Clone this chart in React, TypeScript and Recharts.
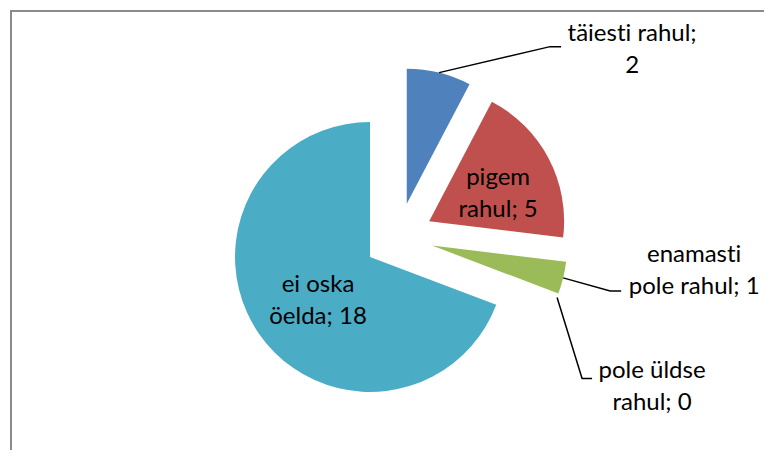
import React from 'react';
import { PieChart, Pie, Cell } from 'recharts';

const categories = ['täiesti rahul', 'pigem rahul', 'enamasti pole rahul', 'pole üldse rahul', 'ei oska öelda'];
const counts = [2, 5, 1, 0, 18];
const colors = ['#4F81BD', '#C0504D', '#9BBB59', '#8064A2', '#4BACC6'];
const labelBreaks = [2, 1, 1, 2, 2];

const data = categories.map((name, i) => ({ name, value: counts[i] }));

const W = 772;
const H = 458;
const CX = 398.5;
const CY = 237.3;
const R = 135;
const EXPLODE = 34.6;
const FONT = 'Lato, sans-serif';
const FS = 24;
const LINE_H = 32;

type Layout = {
  anchor: 'apex' | 'outer';
  text: [number, number];
  elbow?: [number, number];
  end?: [number, number];
};

const labelLayout: Layout[] = [
  { anchor: 'outer', elbow: [111, -26], end: [122, -26], text: [193, -32] },
  { anchor: 'apex', text: [69, -36] },
  { anchor: 'outer', elbow: [47, 13], end: [58, 13], text: [131, -16] },
  { anchor: 'outer', elbow: [25, 81], end: [35, 81], text: [95, 81] },
  { anchor: 'apex', text: [-52, 35] },
];

const total = counts.reduce((a, b) => a + b, 0);
const midAngles = counts.map((v, i) => {
  const before = counts.slice(0, i).reduce((a, b) => a + b, 0);
  return 90 - ((before + v / 2) / total) * 360;
});

const makeLabel = (i: number) => (props: any) => {
  if (props.index !== i) return null;
  const { cx, cy, midAngle, outerRadius, name, value } = props;
  const rad = (midAngle * Math.PI) / 180;
  const lay = labelLayout[i];
  const ox = cx + outerRadius * Math.cos(rad);
  const oy = cy - outerRadius * Math.sin(rad);
  const bx = lay.anchor === 'outer' ? ox : cx;
  const by = lay.anchor === 'outer' ? oy : cy;
  const words = `${name}; ${value}`.split(' ');
  const lines = [words.slice(0, labelBreaks[i]).join(' '), words.slice(labelBreaks[i]).join(' ')];
  return (
    <g>
      {lay.elbow && lay.end && (
        <polyline
          points={`${ox},${oy} ${ox + lay.elbow[0]},${oy + lay.elbow[1]} ${ox + lay.end[0]},${oy + lay.end[1]}`}
          fill="none"
          stroke="#000"
          strokeWidth={1.5}
        />
      )}
      {lines.map((t, k) => (
        <text
          key={k}
          x={bx + lay.text[0]}
          y={by + lay.text[1] + k * LINE_H}
          textAnchor="middle"
          fontFamily={FONT}
          fontSize={FS}
          fill="#000"
          style={{ fontVariantLigatures: 'none' }}
        >
          {t}
        </text>
      ))}
    </g>
  );
};

export default function App() {
  return (
    <div style={{ position: 'relative', width: W, height: H, margin: -8, overflow: 'hidden', background: '#fff' }}>
      <div
        style={{
          position: 'absolute',
          left: 10,
          top: 10,
          width: 2000,
          height: 2000,
          borderLeft: '2px solid #8a8a8a',
          borderTop: '2px solid #8a8a8a',
        }}
      />
      <div style={{ position: 'absolute', left: 0, top: 0 }}>
        <PieChart width={W} height={H} margin={{ top: 0, right: 0, bottom: 0, left: 0 }}>
          {data.map((_, i) => {
            const rad = (midAngles[i] * Math.PI) / 180;
            const dx = EXPLODE * Math.cos(rad);
            const dy = -EXPLODE * Math.sin(rad);
            return (
              <Pie
                key={i}
                data={data}
                dataKey="value"
                nameKey="name"
                cx={CX + dx}
                cy={CY + dy}
                outerRadius={R}
                startAngle={90}
                endAngle={-270}
                stroke="none"
                isAnimationActive={false}
                label={makeLabel(i)}
                labelLine={false}
              >
                {data.map((d, j) => (
                  <Cell key={j} fill={j === i ? colors[j] : 'none'} stroke="none" />
                ))}
              </Pie>
            );
          })}
        </PieChart>
      </div>
    </div>
  );
}
